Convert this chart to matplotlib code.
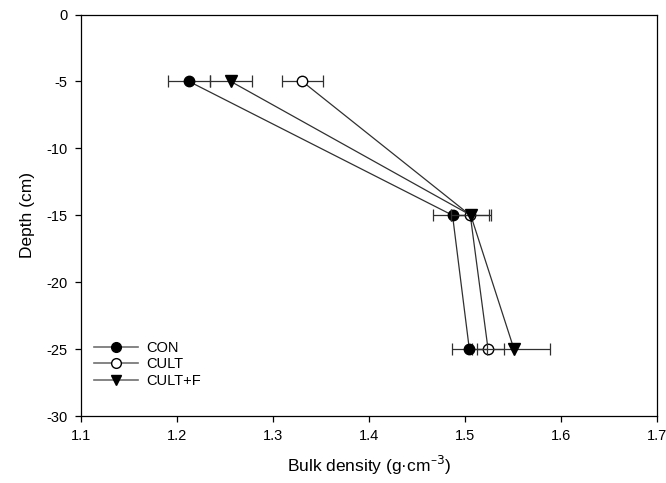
import matplotlib
matplotlib.use("Agg")
import matplotlib.pyplot as plt
from matplotlib.lines import Line2D

plt.rcParams['font.family'] = ['Liberation Sans', 'DejaVu Sans']
plt.rcParams['axes.unicode_minus'] = False

depth = [-5, -15, -25]
con = [1.2125, 1.487, 1.5045]
con_err = [0.022, 0.0205, 0.018]
cult = [1.3305, 1.5055, 1.524]
cult_err = [0.0215, 0.020, 0.017]
cultf = [1.256, 1.506, 1.551]
cultf_err = [0.022, 0.021, 0.038]
labels = ['CON', 'CULT', 'CULT+F']

fig = plt.figure(figsize=(6.66, 4.83), dpi=100)
ax = fig.add_axes([81/666, 1-416/483, (657-81)/666, (416-14.5)/483])

lc = '#303030'
ms = 7.5
ax.errorbar(cult, depth, xerr=cult_err, color=lc, lw=0.9, capsize=4, capthick=0.9,
            marker='o', ms=ms, mfc='white', mec='black', zorder=2)
ax.errorbar(con, depth, xerr=con_err, color=lc, lw=0.9, capsize=4, capthick=0.9,
            marker='o', ms=ms, mfc='black', mec='black', zorder=3)
ax.errorbar(cultf, depth, xerr=cultf_err, color=lc, lw=0.9, capsize=4, capthick=0.9,
            marker='v', ms=ms + 0.5, mfc='black', mec='black', zorder=4)

ax.set_xlim(1.1, 1.7)
ax.set_ylim(-30, 0)
ax.set_xticks([1.1, 1.2, 1.3, 1.4, 1.5, 1.6, 1.7])
ax.set_xticklabels(['1.1', '1.2', '1.3', '1.4', '1.5', '1.6', '1.7'])
ax.set_yticks([0, -5, -10, -15, -20, -25, -30])
ax.tick_params(direction='out', length=4.5, width=0.9, labelsize=10.5, pad=5)
for s in ax.spines.values():
    s.set_linewidth(0.9)

ax.set_xlabel('Bulk density (g·cm$^{\u2013 3}$)', fontsize=12.5, labelpad=8)
ax.set_ylabel('Depth (cm)', fontsize=12.5, labelpad=8)

hs = [Line2D([], [], color='#707070', lw=1.2, marker='o', ms=7, mfc='black', mec='black'),
      Line2D([], [], color='#707070', lw=1.2, marker='o', ms=7, mfc='white', mec='black'),
      Line2D([], [], color='#707070', lw=1.2, marker='v', ms=7.5, mfc='black', mec='black')]
ax.legend(hs, labels, loc='lower left', bbox_to_anchor=(0.0, 0.038), frameon=False,
          fontsize=10.5, handlelength=3.0, handletextpad=0.6, labelspacing=0.15,
          borderaxespad=0.5)

fig.savefig('out.png', dpi=100)
